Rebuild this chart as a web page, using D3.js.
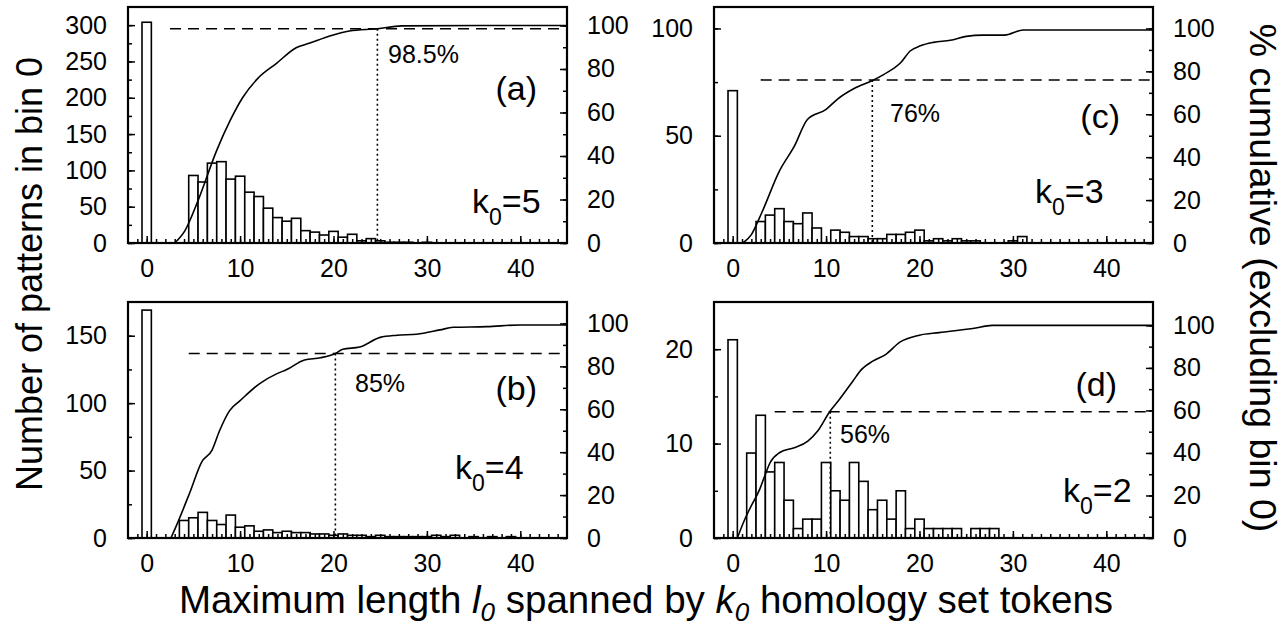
<!DOCTYPE html>
<html>
<head>
<meta charset="utf-8">
<script src="https://cdn.jsdelivr.net/npm/d3@7"></script>
<style>
body { margin: 0; background: #fff; }
svg { display: block; font-family: "Liberation Sans", Arial, sans-serif; }
</style>
</head>
<body>
<svg id="chart" width="1286" height="627"></svg>
<script>
// histogram counts, index = bin (max length l0)
var countsA = [304, 0, 0, 0, 0, 93, 84, 110, 112, 88, 92, 70, 64, 48, 35, 30, 34, 17, 15, 11, 16, 8, 12, 3, 6, 3, 1, 1, 1, 0, 1];
var countsB = [169, 0, 0, 0, 13, 15, 19, 13, 10, 17, 8, 9, 5, 6, 4, 5, 4, 4, 3, 3, 2, 3, 2, 2, 1, 2, 1, 1, 1, 1, 1, 2, 1, 2, 0, 1, 0, 1, 0, 1];
var countsC = [71, 0, 0, 10, 13, 16, 10, 9, 14, 7, 0, 6, 5, 3, 3, 2, 2, 4, 4, 5, 6, 1, 2, 1, 2, 1, 1, 0, 0, 0, 1, 3];
var countsD = [21, 0, 9, 13, 7, 8, 4, 1, 2, 2, 8, 5, 4, 8, 6, 3, 4, 2, 5, 1, 2, 1, 1, 1, 1, 0, 1, 1, 1];

// cumulative % curves (excluding bin 0)
var cumXA = [3.0, 4.1, 5.5, 7.5, 8.9, 10.3, 11.9, 13.9, 16, 17.4, 19.6, 21.7, 24.7, 27.3, 35.9, 45];
var cumYA = [0, 5.7, 19.5, 42.6, 56, 67, 75.7, 82.6, 89.8, 91.8, 95.2, 97.5, 98.5, 99.8, 100, 100];
var cumXB = [2.6, 3.4, 4.6, 5.9, 7.0, 7.8, 8.9, 10, 12.1, 13.9, 15, 16.9, 18.6, 20.2, 21, 22.8, 25, 26.8, 28.9, 31.4, 32.8, 36.4, 40, 45];
var cumYB = [0, 8, 21, 35.5, 41, 50, 59.5, 64, 72, 76.5, 78.5, 83, 84, 86, 88, 89, 93.5, 94.5, 95, 97, 98.2, 98.5, 99.3, 99.3];
var cumXC = [1.1, 2.0, 3.1, 5.0, 6.6, 8.0, 10.0, 11.2, 13.0, 15.0, 16.2, 18.0, 19.0, 20.1, 21.5, 23.3, 25.0, 26.8, 29.1, 31.1, 45];
var cumYC = [0, 3.9, 14, 33.5, 45.1, 57.6, 62.3, 67, 72, 75.8, 78.6, 84.1, 89.5, 91.9, 93.5, 94.5, 96.3, 96.9, 96.9, 99.3, 99.3];
var cumXD = [0.5, 1.3, 1.8, 2.9, 3.5, 4.0, 5.0, 6.6, 8.05, 9.1, 10.4, 11.4, 12.9, 13.8, 15.0, 16.4, 17.9, 20.0, 22.1, 25.7, 27.8, 45];
var cumYD = [0, 8.8, 13.5, 23, 30, 35.4, 40.1, 42.5, 45.6, 50.3, 59.5, 65, 74, 79.3, 83.2, 86.4, 92.1, 95.4, 96.6, 98.5, 100, 100];

// threshold markers: [dashed start x, threshold x, threshold %]
var thrA = [2.5, 24.7, 98.5];
var thrB = [4.5, 20.2, 86];
var thrC = [3.0, 14.95, 76];
var thrD = [4.5, 10.45, 59.4];

var pctLabels = ["98.5%", "85%", "76%", "56%"];
var panelLabels = ["(a)", "(b)", "(c)", "(d)"];
var k0Values = ["5", "4", "3", "2"];

var xTicks = [0, 10, 20, 30, 40];
var leftTicksA = [0, 50, 100, 150, 200, 250, 300];
var leftTicksB = [0, 50, 100, 150];
var leftTicksC = [0, 50, 100];
var leftTicksD = [0, 10, 20];
var rightTicks = [0, 20, 40, 60, 80, 100];

var svg = d3.select("#chart");
var W = 439, H = 236;
var font = "Liberation Sans, Arial, sans-serif";

var panels = [
    { x: 128, y: 7,   counts: countsA, cx: cumXA, cy: cumYA, thr: thrA, lt: leftTicksA, lmin: 25, lmax: 325, rmax: 108.5,
      pct: pctLabels[0], lab: panelLabels[0], k0: k0Values[0], labPos: [409, 93], kPos: [344, 206], pctPos: [260, 56] },
    { x: 128, y: 302, counts: countsB, cx: cumXB, cy: cumYB, thr: thrB, lt: leftTicksB, lmin: 25, lmax: 175, rmax: 110,
      pct: pctLabels[1], lab: panelLabels[1], k0: k0Values[1], labPos: [409, 98], kPos: [327, 177], pctPos: [227, 90] },
    { x: 714, y: 7,   counts: countsC, cx: cumXC, cy: cumYC, thr: thrC, lt: leftTicksC, lmin: 25, lmax: 110, rmax: 110,
      pct: pctLabels[2], lab: panelLabels[2], k0: k0Values[2], labPos: [406, 121], kPos: [321, 196], pctPos: [176, 115] },
    { x: 714, y: 302, counts: countsD, cx: cumXD, cy: cumYD, thr: thrD, lt: leftTicksD, lmin: 5, lmax: 25, rmax: 111,
      pct: pctLabels[3], lab: panelLabels[3], k0: k0Values[3], labPos: [403, 94], kPos: [349, 200], pctPos: [126, 141] }
];

var x = d3.scaleLinear().domain([-2, 45]).range([0, W]);

panels.forEach(function (p) {
    var g = svg.append("g").attr("transform", "translate(" + p.x + "," + p.y + ")");
    var yL = d3.scaleLinear().domain([0, p.lmax]).range([H, 0]);
    var yR = d3.scaleLinear().domain([0, p.rmax]).range([H, 0]);

    // bars
    var bars = p.counts.map(function (c, i) { return { bin: i, n: c }; }).filter(function (d) { return d.n > 0; });
    g.selectAll("rect.bar")
        .data(bars)
        .enter()
        .append("rect")
        .attr("class", "bar")
        .attr("x", function (d) { return x(d.bin - 0.5); })
        .attr("y", function (d) { return yL(d.n); })
        .attr("width", x(1) - x(0))
        .attr("height", function (d) { return H - yL(d.n); })
        .attr("fill", "#fff")
        .attr("stroke", "#000")
        .attr("stroke-width", 1.6);

    // cumulative curve
    var pts = p.cx.map(function (v, i) { return [v, p.cy[i]]; });
    g.append("path")
        .datum(pts)
        .attr("fill", "none")
        .attr("stroke", "#000")
        .attr("stroke-width", 1.6)
        .attr("d", d3.line()
            .x(function (d) { return x(d[0]); })
            .y(function (d) { return yR(d[1]); })
            .curve(d3.curveMonotoneX));

    // threshold lines
    g.append("line")
        .attr("x1", x(p.thr[0])).attr("x2", W)
        .attr("y1", yR(p.thr[2])).attr("y2", yR(p.thr[2]))
        .attr("stroke", "#000").attr("stroke-width", 1.6)
        .attr("stroke-dasharray", "11,7");
    g.append("line")
        .attr("x1", x(p.thr[1])).attr("x2", x(p.thr[1]))
        .attr("y1", yR(p.thr[2])).attr("y2", H)
        .attr("stroke", "#000").attr("stroke-width", 1.6)
        .attr("stroke-dasharray", "2,3");

    // axes
    g.append("g")
        .attr("transform", "translate(0," + H + ")")
        .call(d3.axisBottom(x).tickValues(xTicks).tickSize(-7).tickPadding(16));
    g.append("g")
        .attr("transform", "translate(0," + H + ")")
        .call(d3.axisBottom(x).tickValues(d3.range(-1, 45)).tickSize(-4).tickFormat(""));
    g.append("g")
        .call(d3.axisLeft(yL).tickValues(p.lt).tickSize(-7).tickPadding(21));
    g.append("g")
        .call(d3.axisLeft(yL).tickValues(d3.range(0, p.lmax, p.lmin)).tickSize(-4).tickFormat(""));
    g.append("g")
        .attr("transform", "translate(" + W + ",0)")
        .call(d3.axisRight(yR).tickValues(rightTicks).tickSize(-7).tickPadding(20));
    g.append("g")
        .attr("transform", "translate(" + W + ",0)")
        .call(d3.axisRight(yR).tickValues(d3.range(0, 110, 10)).tickSize(-4).tickFormat(""));

    g.selectAll(".domain").remove();
    g.selectAll(".tick line").attr("stroke-width", 1.5);
    g.selectAll(".tick text").attr("font-size", 25).attr("font-family", font).attr("fill", "#000");

    // frame
    g.append("rect")
        .attr("width", W).attr("height", H)
        .attr("fill", "none").attr("stroke", "#000").attr("stroke-width", 2.2);

    // annotations
    g.append("text")
        .attr("x", p.labPos[0]).attr("y", p.labPos[1])
        .attr("text-anchor", "end")
        .attr("font-size", 34)
        .text(p.lab);
    g.append("text")
        .attr("x", p.pctPos[0]).attr("y", p.pctPos[1])
        .attr("font-size", 25)
        .text(p.pct);
    var kt = g.append("text")
        .attr("x", p.kPos[0]).attr("y", p.kPos[1])
        .attr("font-size", 34);
    kt.append("tspan").text("k");
    kt.append("tspan").attr("dy", 12).attr("font-size", 23).text("0");
    kt.append("tspan").attr("dy", -12).text("=" + p.k0);
});

// axis titles
svg.append("text")
    .attr("transform", "translate(42,274) rotate(-90)")
    .attr("text-anchor", "middle")
    .attr("font-size", 36)
    .text("Number of patterns in bin 0");

svg.append("text")
    .attr("transform", "translate(1250,278) rotate(90)")
    .attr("text-anchor", "middle")
    .attr("font-size", 37.5)
    .text("% cumulative (excluding bin 0)");

var xt = svg.append("text")
    .attr("x", 646).attr("y", 613)
    .attr("text-anchor", "middle")
    .attr("font-size", 38.5);
xt.append("tspan").text("Maximum length ");
xt.append("tspan").attr("font-style", "italic").text("l");
xt.append("tspan").attr("font-style", "italic").attr("font-size", 26).attr("dy", 8).text("0");
xt.append("tspan").attr("dy", -8).text(" spanned by ");
xt.append("tspan").attr("font-style", "italic").text("k");
xt.append("tspan").attr("font-style", "italic").attr("font-size", 26).attr("dy", 8).text("0");
xt.append("tspan").attr("dy", -8).text(" homology set tokens");
</script>
</body>
</html>
